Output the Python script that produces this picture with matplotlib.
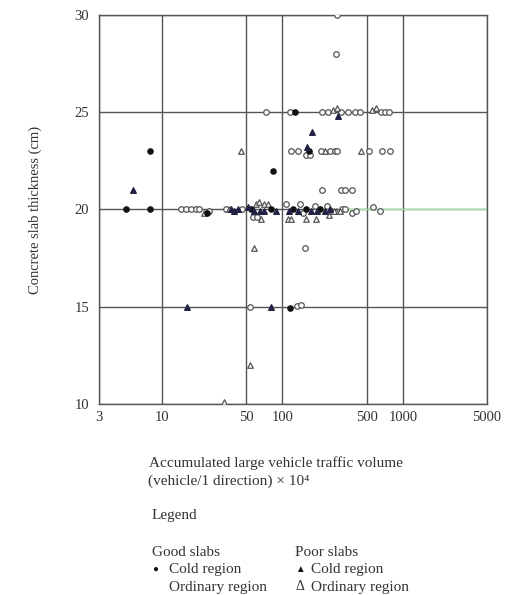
import matplotlib
matplotlib.use('Agg')
from matplotlib import pyplot as plt
from matplotlib.ticker import NullLocator

# good slabs, cold region (filled circles)
good_cold_x = [5, 8, 8, 83, 128, 115, 23.8, 54.5, 80, 122, 158, 204, 165]
good_cold_y = [20, 20, 23, 22, 25, 14.95, 19.8, 20.0, 20.0, 20.0, 20.0, 20.0, 23.0]

# good slabs, ordinary region (open circles)
good_ord_x = [285, 280, 72.5, 115, 215, 240, 309, 352, 400, 440, 655, 711, 773,
              117, 135, 158, 168, 211, 248, 272, 285, 526, 667, 783,
              215, 309, 330, 375,
              153,
              54, 132, 144,
              14.4, 15.8, 17.4, 19.2, 20.4, 24.7, 34.2, 46.4, 57, 62, 108, 139,
              148, 186, 235, 312, 330, 375, 411, 561, 646]
good_ord_y = [30, 28, 25, 25, 25, 25, 25, 25, 25, 25, 25, 25, 25,
              23, 23, 22.8, 22.8, 23, 23, 23, 23, 23, 23, 23,
              21, 21, 21, 21,
              18,
              15, 15.05, 15.1,
              20, 20, 20, 20, 20, 19.9, 20, 20, 19.6, 19.6, 20.3, 20.3,
              19.8, 20.2, 20.2, 20, 20, 19.8, 19.9, 20.1, 19.9]

# poor slabs, cold region (filled triangles)
poor_cold_x = [5.7, 176, 290, 160, 16, 80,
               37.6, 40, 42.6, 51.6, 58.6, 64.6, 71, 89, 113, 135, 174, 194, 225, 247]
poor_cold_y = [21, 24, 24.8, 23.2, 15, 15,
               20, 19.9, 20, 20.1, 19.9, 19.9, 19.9, 19.9, 19.9, 19.9, 19.9, 19.9, 19.9, 20]

# poor slabs, ordinary region (open triangles)
poor_ord_x = [45, 58, 54, 33, 261, 285, 551, 599, 225, 449,
              22.5, 35.9, 60, 64, 71, 76, 67, 111, 118, 158, 189, 244, 256, 281, 270, 299]
poor_ord_y = [23, 18, 12, 10.1, 25.1, 25.2, 25.1, 25.2, 23, 23,
              19.8, 20, 20.3, 20.4, 20.3, 20.3, 19.5, 19.5, 19.5, 19.5, 19.5, 19.7, 19.9, 19.9, 19.9, 19.9]

xticks = [3, 10, 50, 100, 500, 1000, 5000]
xlabels = ['3', '10', '50', '100', '500', '1000', '5000']
yticks = [10, 15, 20, 25, 30]

serif = ['Liberation Serif', 'DejaVu Serif', 'DejaVu Sans']
plt.rcParams['font.family'] = serif

fig = plt.figure(figsize=(5.1, 5.95), dpi=100)
ax = fig.add_axes((0.194, 0.321, 0.761, 0.654))

ax.set_xscale('log')
ax.set_xlim(3, 5000)
ax.set_ylim(10, 30)
ax.set_xticks(xticks)
ax.set_xticklabels(xlabels)
ax.xaxis.set_minor_locator(NullLocator())
ax.set_yticks(yticks)
ax.tick_params(length=0, labelsize=10.5, colors='#333333')
ax.tick_params(axis='x', pad=5)
ax.tick_params(axis='y', pad=7)
ax.grid(True, color='#555555', lw=1.0)
ax.set_axisbelow(True)
for s in ax.spines.values():
    s.set_color('#555555')
    s.set_linewidth(1.0)
# greenish tint on the 20 cm line in the scan
ax.axhline(20, xmin=0.62, xmax=1.0, color='#a6e3a6', lw=1.0, zorder=1)

ax.scatter(good_ord_x, good_ord_y, s=16, marker='o', facecolors='white',
           edgecolors='#555555', linewidths=0.9, zorder=3)
ax.scatter(poor_ord_x, poor_ord_y, s=16, marker='^', facecolors='white',
           edgecolors='#555555', linewidths=0.9, zorder=3)
ax.scatter(good_cold_x, good_cold_y, s=14, marker='o', color='#111111', zorder=4)
ax.scatter(poor_cold_x, poor_cold_y, s=16, marker='^', color='#222244', zorder=4)

fig.text(35 / 510, 1 - 210 / 595, 'Concrete slab thickness (cm)', rotation=90,
         ha='center', va='center', fontsize=10.5, color='#333333')

fig.text(149 / 510, 1 - 463 / 595, 'Accumulated large vehicle traffic volume',
         ha='left', va='center', fontsize=11, color='#333333')
fig.text(148 / 510, 1 - 481 / 595, '(vehicle/1 direction) × 10⁴',
         ha='left', va='center', fontsize=11, color='#333333')
fig.text(152 / 510, 1 - 516 / 595, 'Legend', ha='left', va='center',
         fontsize=11, color='#333333')
fig.text(152 / 510, 1 - 552 / 595, 'Good slabs', ha='left', va='center',
         fontsize=11, color='#333333')
fig.text(152 / 510, 1 - 569 / 595, '●', ha='left', va='center',
         fontsize=7, color='#111111')
fig.text(169 / 510, 1 - 569 / 595, 'Cold region', ha='left', va='center',
         fontsize=11, color='#333333')
fig.text(169 / 510, 1 - 587 / 595, 'Ordinary region', ha='left', va='center',
         fontsize=11, color='#333333')
fig.text(295 / 510, 1 - 552 / 595, 'Poor slabs', ha='left', va='center',
         fontsize=11, color='#333333')
fig.text(295 / 510, 1 - 569 / 595, '▲', ha='left', va='center',
         fontsize=7, color='#111111')
fig.text(311 / 510, 1 - 569 / 595, 'Cold region', ha='left', va='center',
         fontsize=11, color='#333333')
fig.text(295 / 510, 1 - 587 / 595, 'Δ', ha='left', va='center',
         fontsize=10, color='#333333')
fig.text(311 / 510, 1 - 587 / 595, 'Ordinary region', ha='left', va='center',
         fontsize=11, color='#333333')

plt.savefig('out.png', dpi=100)
